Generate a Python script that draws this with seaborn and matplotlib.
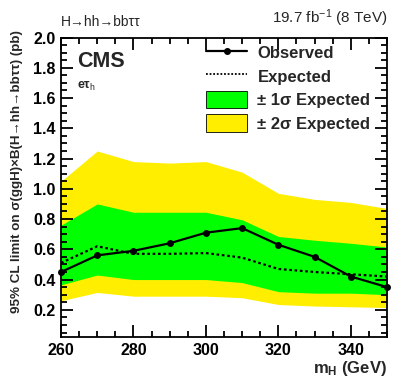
import matplotlib
matplotlib.use("Agg")
import matplotlib.pyplot as plt
import seaborn as sns
import pandas as pd
from matplotlib.ticker import MultipleLocator, FormatStrFormatter
from matplotlib.patches import Patch
from matplotlib.lines import Line2D

mass = [260, 270, 280, 290, 300, 310, 320, 330, 340, 350]
observed = [0.45, 0.56, 0.59, 0.64, 0.71, 0.74, 0.63, 0.55, 0.42, 0.35]
expected = [0.51, 0.62, 0.57, 0.57, 0.575, 0.545, 0.47, 0.45, 0.435, 0.42]
up1 = [0.76, 0.90, 0.845, 0.845, 0.845, 0.795, 0.685, 0.66, 0.64, 0.615]
dn1 = [0.365, 0.43, 0.40, 0.40, 0.40, 0.38, 0.32, 0.31, 0.31, 0.30]
up2 = [1.05, 1.25, 1.18, 1.17, 1.18, 1.11, 0.97, 0.93, 0.91, 0.87]
dn2 = [0.26, 0.315, 0.29, 0.29, 0.29, 0.28, 0.235, 0.225, 0.22, 0.215]

df = pd.DataFrame({"mass": mass, "observed": observed, "expected": expected,
                   "up1": up1, "dn1": dn1, "up2": up2, "dn2": dn2})

sns.set_style("ticks")
plt.rcParams['font.family'] = ['Liberation Sans', 'DejaVu Sans']
plt.rcParams['mathtext.fontset'] = 'custom'
plt.rcParams['mathtext.rm'] = 'Liberation Sans'
plt.rcParams['mathtext.bf'] = 'Liberation Sans:bold'
plt.rcParams['mathtext.it'] = 'Liberation Sans:italic'
plt.rcParams['axes.axisbelow'] = False
plt.rcParams['xtick.color'] = 'black'
plt.rcParams['ytick.color'] = 'black'
plt.rcParams['axes.edgecolor'] = 'black'

fig = plt.figure(figsize=(4.07, 3.91), dpi=100)
ax = fig.add_axes([0.150, 0.138, 0.801, 0.766])

yellow = "#ffee00"
green = "#00ff00"
ax.fill_between(df["mass"], df["dn2"], df["up2"], color=yellow, lw=0, zorder=1)
ax.fill_between(df["mass"], df["dn1"], df["up1"], color=green, lw=0, zorder=1.5)
sns.lineplot(data=df, x="mass", y="expected", ax=ax, color="black", lw=1.6,
             linestyle=(0, (1.2, 1.2)), zorder=3)
sns.lineplot(data=df, x="mass", y="observed", ax=ax, color="black", lw=1.6,
             marker="o", markersize=5, markeredgewidth=0, zorder=4, clip_on=False)

ax.set_xlim(260, 350)
ax.set_ylim(0.02, 2.0)
ax.xaxis.set_major_locator(MultipleLocator(20))
ax.xaxis.set_minor_locator(MultipleLocator(5))
ax.yaxis.set_major_locator(MultipleLocator(0.2))
ax.yaxis.set_minor_locator(MultipleLocator(0.05))
ax.yaxis.set_major_formatter(FormatStrFormatter("%.1f"))
ax.tick_params(which="both", direction="in", top=True, right=True, bottom=True, left=True,
               width=1.3, color="black")
ax.tick_params(which="major", length=8.5, labelsize=11.5, pad=4)
ax.tick_params(which="minor", length=4.5)
for s in ax.spines.values():
    s.set_linewidth(1.3)
    s.set_color("black")
    s.set_zorder(6)

ax.set_xlabel("m$_{\\mathbf{H}}$ (GeV)", fontsize=12, fontweight="bold", loc="right", labelpad=1)
ax.set_ylabel("95% CL limit on σ(ggH)×B(H→hh→bbττ) (pb)", fontsize=9.6, fontweight="bold")
ax.yaxis.set_label_coords(-0.118, 0.551)
for lab in ax.get_xticklabels() + ax.get_yticklabels():
    lab.set_fontweight("bold")

fig.text(0.150, 0.925, "H→hh→bbττ", fontsize=10, ha="left", va="bottom")
fig.text(0.951, 0.925, "19.7 fb$^{-1}$ (8 TeV)", fontsize=11, ha="right", va="bottom")
ax.text(0.05, 0.955, "CMS", transform=ax.transAxes, fontsize=15.5, fontweight="bold", va="top")
ax.text(0.05, 0.86, "eτ$_{\\mathrm{h}}$", transform=ax.transAxes, fontsize=9, fontweight="bold", va="top")

handles = [
    Line2D([], [], color="black", lw=1.6, marker="o", markersize=4),
    Line2D([], [], color="black", lw=1.3, linestyle=(0, (1, 1))),
    Patch(facecolor=green, edgecolor="black", lw=0.6),
    Patch(facecolor=yellow, edgecolor="black", lw=0.6),
]
labels = ["Observed", "Expected", "± 1σ Expected", "± 2σ Expected"]
leg = ax.legend(handles, labels, loc="upper right", bbox_to_anchor=(0.995, 1.03), frameon=False,
                prop={"size": 12, "weight": "bold"}, handlelength=2.5, handleheight=1.25,
                labelspacing=0.36, handletextpad=0.6)

fig.savefig("out.png", dpi=100)
